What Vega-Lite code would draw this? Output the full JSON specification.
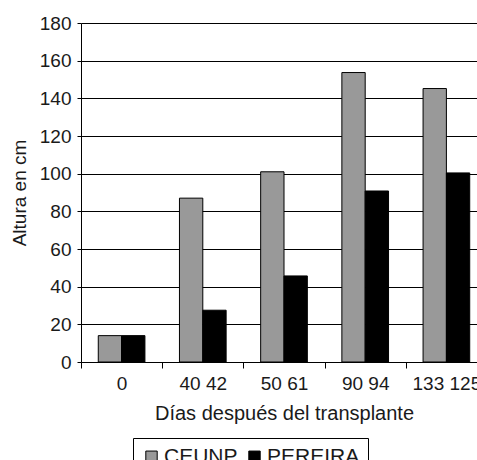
{
  "$schema": "https://vega.github.io/schema/vega-lite/v6.json",
  "width": 406,
  "height": 339,
  "padding": {"left": 10, "top": 14, "right": 0, "bottom": 0},
  "config": {
    "font": "Liberation Sans",
    "view": {"stroke": null},
    "axis": {
      "domainColor": "black",
      "tickColor": "black",
      "labelColor": "#1a1a1a",
      "titleColor": "#1a1a1a",
      "labelFontSize": 19,
      "titleFontSize": 19,
      "titleFontWeight": "normal"
    }
  },
  "data": {
    "values": [
      {"dias": "0", "serie": "CEUNP", "altura": 14},
      {"dias": "0", "serie": "PEREIRA", "altura": 14},
      {"dias": "40 42", "serie": "CEUNP", "altura": 87},
      {"dias": "40 42", "serie": "PEREIRA", "altura": 27.5},
      {"dias": "50 61", "serie": "CEUNP", "altura": 101},
      {"dias": "50 61", "serie": "PEREIRA", "altura": 45.7},
      {"dias": "90 94", "serie": "CEUNP", "altura": 153.7},
      {"dias": "90 94", "serie": "PEREIRA", "altura": 90.8},
      {"dias": "133 125", "serie": "CEUNP", "altura": 145.2},
      {"dias": "133 125", "serie": "PEREIRA", "altura": 100.4}
    ]
  },
  "mark": {"type": "bar", "stroke": "black", "strokeWidth": 1},
  "encoding": {
    "x": {
      "field": "dias",
      "type": "nominal",
      "sort": ["0", "40 42", "50 61", "90 94", "133 125"],
      "scale": {"paddingInner": 0, "paddingOuter": 0},
      "axis": {
        "title": "Días después del transplante",
        "titleFontSize": 20,
        "labelAngle": 0,
        "tickBand": "extent",
        "tickSize": 6,
        "grid": false,
        "labelPadding": 6,
        "labelDx": -3,
        "titlePadding": 10
      }
    },
    "xOffset": {
      "field": "serie",
      "sort": ["CEUNP", "PEREIRA"],
      "scale": {"paddingInner": 0, "paddingOuter": 0.74}
    },
    "y": {
      "field": "altura",
      "type": "quantitative",
      "scale": {"domain": [0, 180]},
      "axis": {
        "title": "Altura en cm",
        "values": [0, 20, 40, 60, 80, 100, 120, 140, 160, 180],
        "grid": true,
        "gridColor": "black",
        "gridOpacity": 1,
        "tickSize": 4,
        "labelPadding": 6,
        "titlePadding": 10
      }
    },
    "color": {
      "field": "serie",
      "type": "nominal",
      "scale": {"domain": ["CEUNP", "PEREIRA"], "range": ["#999999", "#000000"]},
      "legend": {
        "title": null,
        "orient": "none",
        "legendX": 52,
        "legendY": 415,
        "direction": "horizontal",
        "strokeColor": "black",
        "padding": 8,
        "symbolType": "square",
        "symbolSize": 130,
        "symbolStrokeColor": "black",
        "symbolStrokeWidth": 1,
        "labelFontSize": 21,
        "labelColor": "#1a1a1a",
        "labelOffset": 2,
        "columnPadding": 6
      }
    }
  }
}
